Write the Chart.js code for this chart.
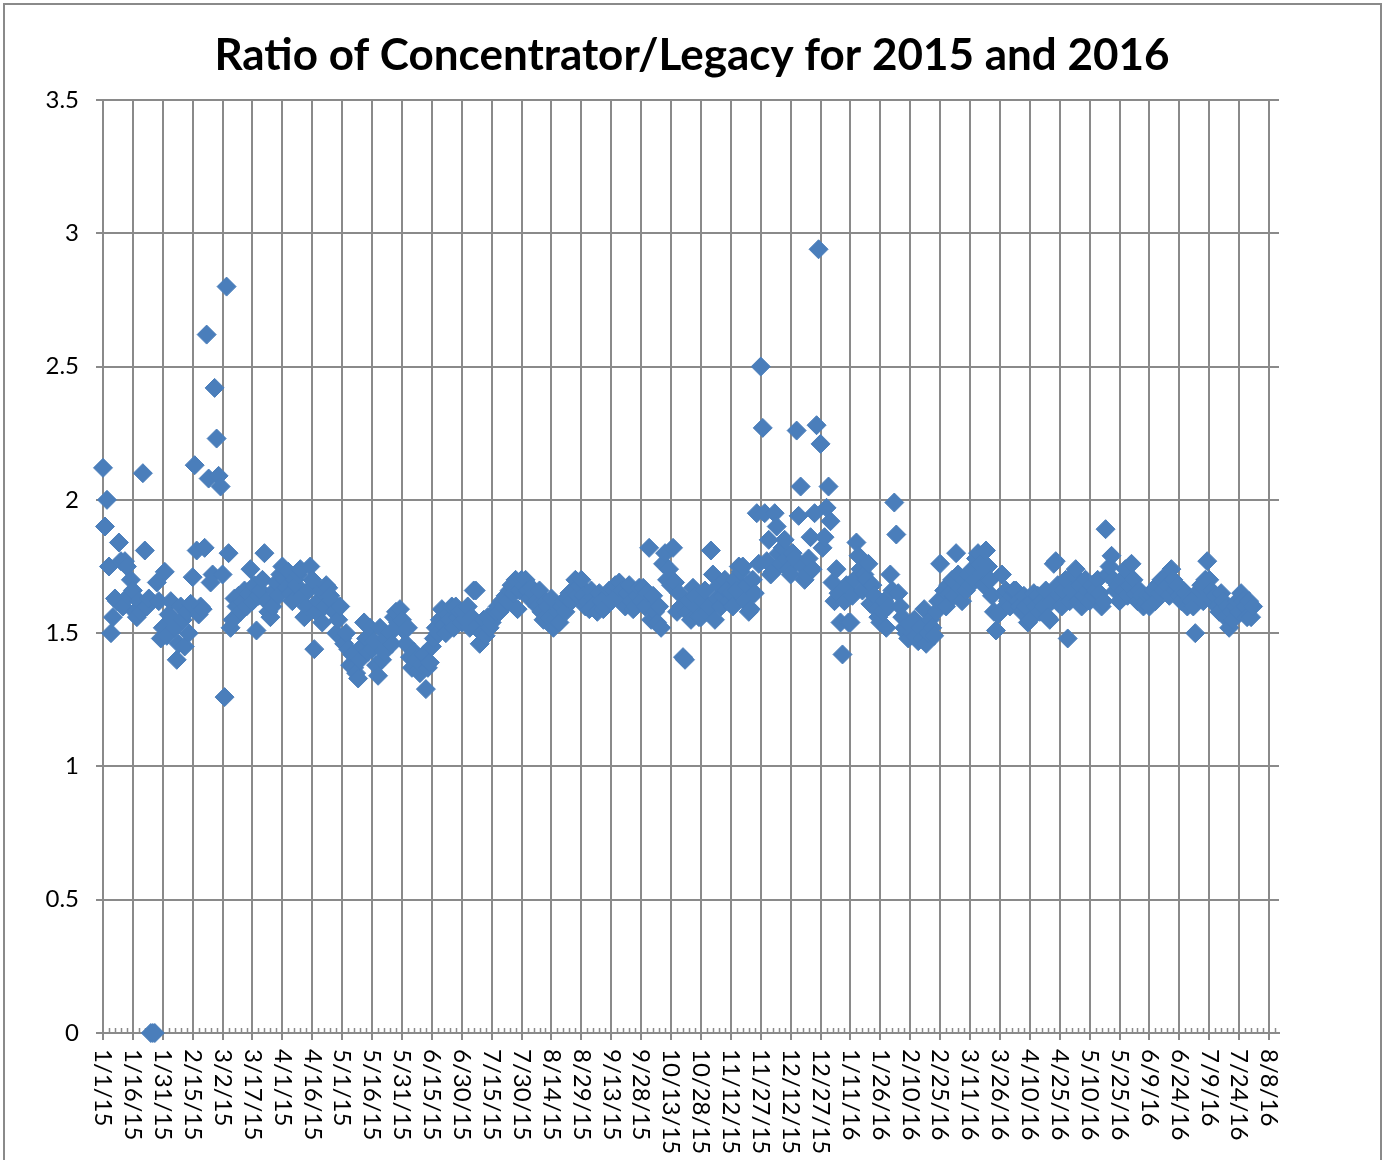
<!DOCTYPE html>
<html lang="en">
<head>
<meta charset="UTF-8">
<title>Ratio of Concentrator/Legacy for 2015 and 2016</title>
<script src="https://cdn.jsdelivr.net/npm/chart.js"></script>
<style>
  html, body { margin: 0; padding: 0; background: #fff; }
</style>
</head>
<body>
<canvas id="ratioChart" width="1388" height="1160"></canvas>
<script>
// daily ratio values, day 0 = 1/1/15
const ratio2015 = [
  2.12, 1.90, 2.00, 1.75, 1.50, 1.56, 1.63, 1.62, 1.84, 1.77, 1.60, 1.77, 1.75, 1.64, 1.70,
  1.66, 1.58, 1.56, 1.62, 1.58, 2.10, 1.81, 1.60, 1.63, 0, 0, 0, 1.69, 1.62, 1.48,
  1.52, 1.73, 1.49, 1.57, 1.62, 1.55, 1.52, 1.40, 1.46, 1.60, 1.55, 1.45, 1.58, 1.50, 1.61,
  1.71, 2.13, 1.81, 1.57, 1.60, 1.59, 1.82, 2.62, 2.08, 1.69, 1.72, 2.42, 2.23, 2.09, 2.05,
  1.72, 1.26, 2.80, 1.80, 1.52, 1.55, 1.63, 1.60, 1.64, 1.58, 1.62, 1.66, 1.60, 1.65, 1.74,
  1.62, 1.68, 1.51, 1.64, 1.66, 1.70, 1.80, 1.62, 1.58, 1.56, 1.60, 1.66, 1.69, 1.64, 1.72,
  1.75, 1.70, 1.67, 1.73, 1.65, 1.62, 1.70, 1.68, 1.72, 1.74, 1.64, 1.56, 1.60, 1.66, 1.75,
  1.70, 1.44, 1.58, 1.62, 1.66, 1.54, 1.60, 1.68, 1.67, 1.64, 1.62, 1.58, 1.50, 1.55, 1.60,
  1.48, 1.46, 1.50, 1.44, 1.38, 1.42, 1.37, 1.35, 1.33, 1.40, 1.45, 1.54, 1.48, 1.43, 1.52,
  1.44, 1.47, 1.38, 1.34, 1.52, 1.40, 1.43, 1.48, 1.45, 1.50, 1.46, 1.56, 1.58, 1.54, 1.59,
  1.55, 1.51, 1.46, 1.52, 1.41, 1.37, 1.43, 1.40, 1.36, 1.35, 1.38, 1.42, 1.29, 1.37, 1.39,
  1.45, 1.48, 1.52, 1.50, 1.55, 1.59, 1.53, 1.50, 1.57, 1.55, 1.60, 1.52, 1.60, 1.56, 1.58,
  1.54, 1.58, 1.55, 1.60, 1.52, 1.56, 1.66, 1.66, 1.53, 1.46, 1.50, 1.55, 1.49, 1.56, 1.52,
  1.54, 1.57, 1.58, 1.60, 1.58, 1.62, 1.60, 1.64, 1.62, 1.66, 1.68, 1.65, 1.70, 1.59, 1.66,
  1.70, 1.68, 1.70, 1.66, 1.63, 1.67, 1.65, 1.62, 1.60, 1.66, 1.58, 1.55, 1.62, 1.60, 1.56,
  1.63, 1.52, 1.55, 1.58, 1.54, 1.60, 1.62, 1.58, 1.63, 1.65, 1.62, 1.66, 1.70, 1.64, 1.68,
  1.70, 1.64, 1.60, 1.62, 1.59, 1.66, 1.63, 1.61, 1.58, 1.65, 1.62, 1.59, 1.60, 1.64, 1.66,
  1.62, 1.66, 1.68, 1.64, 1.69, 1.66, 1.62, 1.60, 1.65, 1.68, 1.62, 1.59, 1.60, 1.64, 1.67,
  1.62, 1.67, 1.60, 1.65, 1.82, 1.55, 1.64, 1.58, 1.54, 1.60, 1.52, 1.76, 1.80, 1.70, 1.74,
  1.68, 1.82, 1.69, 1.58, 1.65, 1.60, 1.41, 1.40, 1.58, 1.62, 1.55, 1.67, 1.64, 1.60, 1.56,
  1.56, 1.62, 1.66, 1.58, 1.60, 1.81, 1.72, 1.55, 1.63, 1.68, 1.60, 1.64, 1.70, 1.66, 1.62,
  1.65, 1.60, 1.70, 1.66, 1.75, 1.73, 1.75, 1.62, 1.68, 1.58, 1.59, 1.70, 1.65, 1.95, 1.76,
  2.50, 2.27, 1.95, 1.77, 1.85, 1.72, 1.73, 1.95, 1.90, 1.80, 1.76, 1.82, 1.85, 1.78, 1.74,
  1.72, 1.80, 1.78, 2.26, 1.94, 2.05, 1.75, 1.70, 1.72, 1.78, 1.86, 1.74, 1.95, 2.28, 2.94,
  2.21, 1.82, 1.86, 1.97, 2.05
];
const ratio2016 = [
  1.92, 1.69, 1.62, 1.74, 1.65, 1.54, 1.42, 1.62, 1.68, 1.54,
  1.54, 1.64, 1.70, 1.84, 1.79, 1.74, 1.66, 1.72, 1.70, 1.76, 1.61, 1.68, 1.64, 1.59, 1.56,
  1.54, 1.58, 1.62, 1.52, 1.60, 1.72, 1.66, 1.99, 1.87, 1.65, 1.60, 1.56, 1.52, 1.50, 1.48,
  1.53, 1.50, 1.55, 1.49, 1.47, 1.52, 1.48, 1.59, 1.46, 1.50, 1.55, 1.52, 1.49, 1.58, 1.62,
  1.76, 1.62, 1.66, 1.60, 1.68, 1.65, 1.70, 1.64, 1.80, 1.72, 1.67, 1.62, 1.70, 1.66, 1.72,
  1.68, 1.74, 1.70, 1.78, 1.80, 1.76, 1.72, 1.68, 1.81, 1.75, 1.70, 1.64, 1.58, 1.51, 1.57,
  1.58, 1.72, 1.65, 1.66, 1.62, 1.60, 1.64, 1.66, 1.66, 1.62, 1.60, 1.58, 1.64, 1.60, 1.54,
  1.55, 1.62, 1.65, 1.60, 1.64, 1.58, 1.62, 1.60, 1.66, 1.56, 1.55, 1.62, 1.76, 1.77, 1.68,
  1.64, 1.60, 1.66, 1.70, 1.48, 1.62, 1.66, 1.72, 1.74, 1.62, 1.68, 1.60, 1.64, 1.70, 1.66,
  1.62, 1.68, 1.64, 1.66, 1.70, 1.65, 1.60, 1.62, 1.89, 1.72, 1.75, 1.79, 1.70, 1.66, 1.68,
  1.62, 1.70, 1.66, 1.74, 1.64, 1.68, 1.76, 1.70, 1.65, 1.62, 1.66, 1.64, 1.60, 1.62, 1.64,
  1.60, 1.64, 1.66, 1.62, 1.68, 1.65, 1.70, 1.66, 1.71, 1.68, 1.64, 1.74, 1.70, 1.66, 1.68,
  1.64, 1.62, 1.66, 1.65, 1.60, 1.63, 1.62, 1.60, 1.50, 1.64, 1.66, 1.68, 1.62, 1.70, 1.77,
  1.70, 1.66, 1.62, 1.64, 1.60, 1.58, 1.65, 1.62, 1.56, 1.60, 1.52, 1.58, 1.55, 1.60, 1.62,
  1.58, 1.65, 1.62, 1.60, 1.56, 1.62, 1.56, 1.60
];
const xTickLabels = [
  '1/1/15', '1/16/15', '1/31/15', '2/15/15', '3/2/15', '3/17/15', '4/1/15', '4/16/15',
  '5/1/15', '5/16/15', '5/31/15', '6/15/15', '6/30/15', '7/15/15', '7/30/15', '8/14/15',
  '8/29/15', '9/13/15', '9/28/15', '10/13/15', '10/28/15', '11/12/15', '11/27/15', '12/12/15',
  '12/27/15', '1/11/16', '1/26/16', '2/10/16', '2/25/16', '3/11/16', '3/26/16', '4/10/16',
  '4/25/16', '5/10/16', '5/25/16', '6/9/16', '6/24/16', '7/9/16', '7/24/16', '8/8/16'
];
const majorStep = 15;   // days between date labels
const minorStep = 3;    // days between minor tick marks
const lastDay = 590;
const chartTitle = 'Ratio of Concentrator/Legacy for 2015 and 2016';

const gridColor = '#8a8a8a';
const points = ratio2015.concat(ratio2016).map((v, i) => ({ x: i, y: v }));

// white background, outer frame and the centred title
const framePlugin = {
  id: 'frame',
  beforeDraw(chart) {
    const ctx = chart.ctx;
    ctx.save();
    ctx.fillStyle = '#fff';
    ctx.fillRect(0, 0, chart.width, chart.height);
    ctx.restore();
  },
  afterDraw(chart) {
    const ctx = chart.ctx;
    ctx.save();
    ctx.strokeStyle = gridColor;
    ctx.lineWidth = 2;
    ctx.strokeRect(4, 4, 1377, 1300);
    ctx.fillStyle = '#000';
    ctx.font = 'bold 44px Lato';
    ctx.textAlign = 'center';
    ctx.textBaseline = 'alphabetic';
    ctx.fillText(chartTitle, 692, 70);
    ctx.restore();
  }
};

// minor ticks above the date axis
const minorTicks = {
  id: 'minorTicks',
  beforeDatasetsDraw(chart) {
    const xs = chart.scales.x, ctx = chart.ctx;
    ctx.save();
    ctx.strokeStyle = gridColor;
    ctx.lineWidth = 1.5;
    ctx.beginPath();
    for (let d = 0; d <= lastDay; d += minorStep) {
      if (d % majorStep === 0) continue;
      const px = Math.round(xs.getPixelForValue(d)) + 0.5;
      ctx.moveTo(px, xs.top - 5);
      ctx.lineTo(px, xs.top);
    }
    ctx.stroke();
    ctx.restore();
  }
};

// date labels read top to bottom (rotated clockwise)
const dateLabels = {
  id: 'dateLabels',
  afterDraw(chart) {
    const xs = chart.scales.x, ctx = chart.ctx;
    ctx.save();
    ctx.fillStyle = '#000';
    ctx.font = '24px Lato';
    ctx.textAlign = 'left';
    ctx.textBaseline = 'middle';
    xs.ticks.forEach((t, i) => {
      const px = xs.getPixelForValue(t.value);
      ctx.save();
      ctx.translate(px, xs.top + 16);
      ctx.rotate(Math.PI / 2);
      ctx.fillText(xTickLabels[i], 0, 0);
      ctx.restore();
    });
    ctx.restore();
  }
};

new Chart(document.getElementById('ratioChart'), {
  type: 'scatter',
  data: {
    datasets: [{
      label: 'Ratio',
      data: points,
      clip: false,
      pointStyle: 'rectRot',
      pointRadius: 9.5,
      pointHoverRadius: 9.5,
      backgroundColor: '#4a7ebb',
      borderColor: '#4a7ebb',
      borderWidth: 1
    }]
  },
  options: {
    responsive: false,
    animation: false,
    layout: { padding: { left: 0, right: 109, top: 100, bottom: 0 } },
    plugins: {
      legend: { display: false },
      tooltip: { enabled: false },
      title: { display: false }
    },
    scales: {
      x: {
        type: 'linear',
        min: 0,
        max: lastDay,
        afterBuildTicks(scale) {
          scale.ticks = xTickLabels.map((_, i) => ({ value: i * majorStep }));
        },
        afterFit(scale) { scale.height = 127; },
        ticks: { display: false },
        grid: { color: gridColor, lineWidth: 2, tickLength: 7, drawTicks: true },
        border: { display: true, color: gridColor, width: 2 }
      },
      y: {
        min: 0,
        max: 3.5,
        afterFit(scale) { scale.width = 103; },
        ticks: {
          stepSize: 0.5,
          color: '#000',
          padding: 17,
          font: { family: 'Lato', size: 24 },
          callback: v => String(v)
        },
        grid: { color: gridColor, lineWidth: 2, tickLength: 7 },
        border: { display: true, color: gridColor, width: 2 }
      }
    }
  },
  plugins: [framePlugin, minorTicks, dateLabels]
});
</script>
</body>
</html>
